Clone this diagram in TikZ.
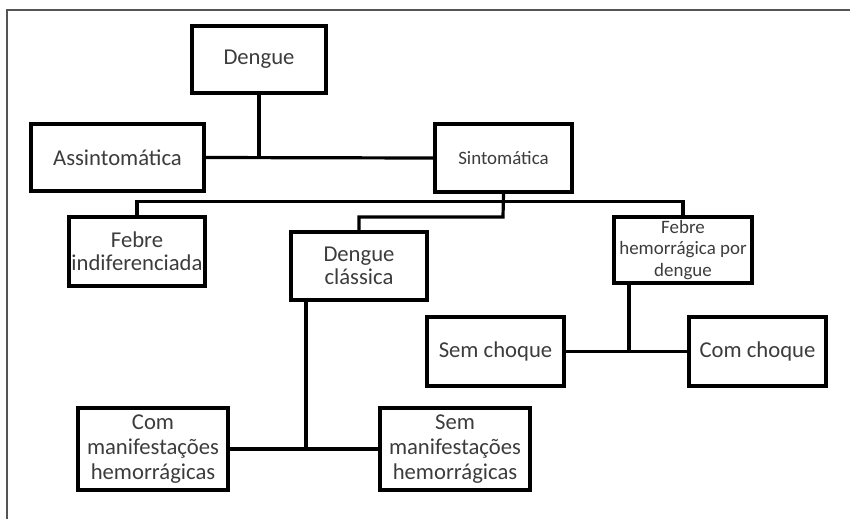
\documentclass[tikz,border=0pt]{standalone}
\usepackage{fontspec}
\setmainfont{Carlito}
\definecolor{txt}{HTML}{3C3C3C}
\definecolor{frame}{HTML}{555555}
\begin{document}
\begin{tikzpicture}[x=0.75pt,y=-0.75pt,
  box/.style={draw=black,line width=2.4pt,rectangle,inner sep=0pt,align=center,
    text=txt,font=\fontsize{17}{17.5}\selectfont},
  smallbox/.style={box,font=\fontsize{14.2}{16}\selectfont},
  link/.style={draw=black,line width=2.4pt}]
\useasboundingbox (0,0) rectangle (850,519);
\draw[frame,line width=1.1pt] (7,519) -- (7,10) -- (850,10);
\node[box,minimum width=134*0.75pt,minimum height=67*0.75pt] (dengue) at (259,59.5) {Dengue};
\node[box,minimum width=173*0.75pt,minimum height=67*0.75pt] (assint) at (117.5,157.5) {Assintomática};
\node[smallbox,minimum width=137*0.75pt,minimum height=68*0.75pt] (sint) at (503.5,158) {Sintomática};
\node[box,minimum width=136*0.75pt,minimum height=69*0.75pt] (febind) at (137,251.5) {Febre\\indiferenciada};
\node[box,minimum width=136*0.75pt,minimum height=68*0.75pt] (dclass) at (359,266) {Dengue\\clássica};
\node[smallbox,minimum width=138*0.75pt,minimum height=66*0.75pt] (febhem) at (683,250) {Febre\\hemorrágica por\\dengue};
\node[box,minimum width=137*0.75pt,minimum height=69*0.75pt] (semch) at (495.5,351.5) {Sem choque};
\node[box,minimum width=137*0.75pt,minimum height=69*0.75pt] (comch) at (757.5,351.5) {Com choque};
\node[box,font=\fontsize{17}{18.5}\selectfont,minimum width=150*0.75pt,minimum height=82*0.75pt] (commanif) at (153,449) {Com\\manifestações\\hemorrágicas};
\node[box,font=\fontsize{17}{18.5}\selectfont,minimum width=150*0.75pt,minimum height=82*0.75pt] (semmanif) at (455,449) {Sem\\manifestações\\hemorrágicas};
\coordinate (j0) at (259,157.5);
\coordinate (j1) at (503,201.5);
\coordinate (j2) at (503,217);
\coordinate (fhb) at (629,283);
\coordinate (j3) at (629,351.5);
\coordinate (dcb) at (306,300);
\coordinate (j4) at (306,449);
\draw[link] (assint.east) -- (sint.west);
\draw[link] (dengue.south) -- (j0);
\draw[link] (sint.south) -- (j2) -| (dclass.north);
\draw[link] (febind.north) |- (j1) -| (febhem.north);
\draw[link] (fhb) -- (j3);
\draw[link] (semch.east) -- (comch.west);
\draw[link] (dcb) -- (j4);
\draw[link] (commanif.east) -- (semmanif.west);
\end{tikzpicture}
\end{document}
